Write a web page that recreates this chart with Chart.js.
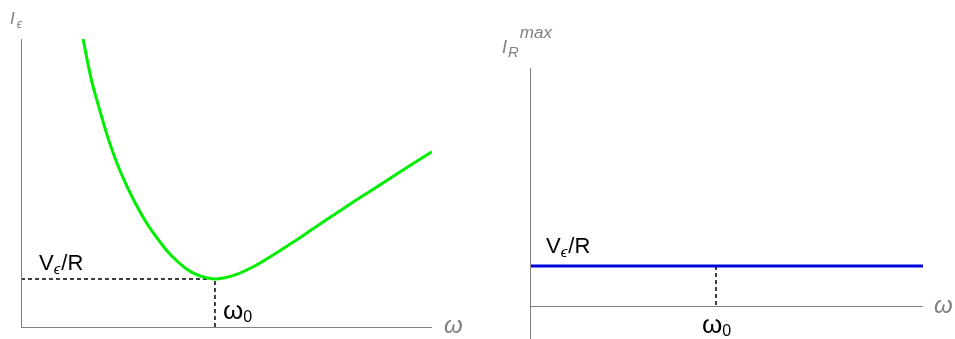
<!DOCTYPE html>
<html lang="en">
<head>
  <meta charset="UTF-8" />
  <title>Resonance current</title>
  <style>
    body {
      margin: 0;
      background: #ffffff;
      width: 955px;
      height: 339px;
      position: relative;
      overflow: hidden;
      font-family: "Liberation Sans", Arial, sans-serif;
    }
    .panel {
      position: absolute;
      top: 0;
      height: 339px;
    }
    #leftPanel { left: 0; width: 477px; }
    #rightPanel { left: 477px; width: 478px; }
  </style>
</head>
<body>
  <div class="panel" id="leftPanel"><canvas id="sourceChart"></canvas></div>
  <div class="panel" id="rightPanel"><canvas id="resistorChart"></canvas></div>

  <script src="https://cdn.jsdelivr.net/npm/chart.js"></script>
  <script>
    // frequency in units of omega0, current in units of V/R
    const omega = [0.32, 0.36, 0.40, 0.45, 0.50, 0.55, 0.60, 0.65, 0.70, 0.75, 0.80, 0.85, 0.90, 0.95, 1.0,
                   1.1, 1.2, 1.3, 1.4, 1.5, 1.6, 1.7, 1.8, 1.9, 2.0, 2.119];
    const sourceCurrent = [6.0, 5.2, 4.6, 3.92, 3.36, 2.9, 2.5, 2.15, 1.86, 1.6, 1.39, 1.22, 1.1, 1.03, 1.0,
                           1.08, 1.26, 1.5, 1.76, 2.03, 2.3, 2.57, 2.83, 3.09, 3.35, 3.65];

    const flatOmega = [0, 2.113];
    const resistorPeak = [1, 1];

    const omega0 = 1;
    const levelVR = 1;

    const axisGray = "#808080";
    const FONT = "'Liberation Sans', Arial, sans-serif";

    // draws a run of text pieces, each with its own size and vertical shift
    function drawPieces(ctx, x, y, color, pieces) {
      ctx.save();
      ctx.fillStyle = color;
      ctx.textBaseline = "alphabetic";
      let cx = x;
      pieces.forEach(p => {
        ctx.font = (p.italic ? "italic " : "") + p.size + "px " + FONT;
        cx += p.dx || 0;
        ctx.fillText(p.text, cx, y + (p.dy || 0));
        cx += ctx.measureText(p.text).width;
      });
      ctx.restore();
    }

    const vrLabel = [
      { text: "V", size: 22 },
      { text: "\u03f5", size: 15, italic: true, dy: 4, dx: 0 },
      { text: "/R", size: 22, dx: 1 }
    ];
    const w0Label = [
      { text: "\u03c9", size: 26 },
      { text: "0", size: 16, dy: 3 }
    ];
    const wAxisLabel = [{ text: "\u03c9", size: 24, italic: true }];

    function axesPlugin(labels) {
      return {
        id: "axesAndLabels",
        afterDatasetsDraw(chart) {
          const ctx = chart.ctx;
          const area = chart.chartArea;
          const xs = chart.scales.x;
          const ys = chart.scales.y;
          const x0 = Math.round(xs.getPixelForValue(0)) + 0.5;
          const y0 = Math.round(ys.getPixelForValue(0)) + 0.5;
          ctx.save();
          ctx.strokeStyle = axisGray;
          ctx.lineWidth = 1;
          ctx.beginPath();
          ctx.moveTo(x0, area.top);
          ctx.lineTo(x0, area.bottom);
          ctx.moveTo(area.left, y0);
          ctx.lineTo(area.right, y0);
          ctx.stroke();
          ctx.restore();
          labels(ctx, xs, ys);
        }
      };
    }

    const hiddenScales = (xMax, yMin, yMax) => ({
      x: { type: "linear", display: false, min: 0, max: xMax },
      y: { type: "linear", display: false, min: yMin, max: yMax }
    });

    const baseOptions = {
      responsive: true,
      maintainAspectRatio: false,
      animation: false,
      events: [],
      plugins: { legend: { display: false }, tooltip: { enabled: false } },
      elements: { point: { radius: 0 } }
    };

    const dashStyle = { borderColor: "#000000", borderWidth: 1.5, borderDash: [4, 3], tension: 0 };

    // left: source current against frequency
    new Chart(document.getElementById("sourceChart"), {
      type: "line",
      data: {
        datasets: [
          {
            data: omega.map((w, i) => ({ x: w, y: sourceCurrent[i] })),
            borderColor: "#00ee00",
            borderWidth: 3,
            cubicInterpolationMode: "monotone"
          },
          {
            data: [{ x: 0, y: levelVR }, { x: omega0, y: levelVR }, { x: omega0, y: 0 }],
            ...dashStyle
          }
        ]
      },
      options: {
        ...baseOptions,
        layout: { padding: { left: 21, right: 45, top: 39, bottom: 12 } },
        scales: hiddenScales(2.119, 0, 6)
      },
      plugins: [axesPlugin((ctx, xs, ys) => {
        const px0 = xs.getPixelForValue(omega0);
        const pyVR = ys.getPixelForValue(levelVR);
        drawPieces(ctx, 39, pyVR - 9, "#000", vrLabel);
        drawPieces(ctx, px0 + 8, 319, "#000", w0Label);
        drawPieces(ctx, 10, 24, axisGray, [
          { text: "I", size: 17, italic: true },
          { text: "\u03f5", size: 12, italic: true, dy: 4, dx: 2 }
        ]);
        drawPieces(ctx, 444, 333, axisGray, wAxisLabel);
      })]
    });

    // right: peak resistor current against frequency
    new Chart(document.getElementById("resistorChart"), {
      type: "line",
      data: {
        datasets: [
          {
            data: flatOmega.map((w, i) => ({ x: w, y: resistorPeak[i] })),
            borderColor: "#0000dd",
            borderWidth: 3
          },
          {
            data: [{ x: omega0, y: levelVR }, { x: omega0, y: 0 }],
            ...dashStyle
          }
        ]
      },
      options: {
        ...baseOptions,
        layout: { padding: { left: 53, right: 32, top: 68, bottom: 0 } },
        scales: hiddenScales(2.113, -0.825, 5.95)
      },
      plugins: [axesPlugin((ctx, xs, ys) => {
        const px0 = xs.getPixelForValue(omega0);
        const pyVR = ys.getPixelForValue(levelVR);
        const left = xs.getPixelForValue(0);
        drawPieces(ctx, left + 16, pyVR - 13, "#000", vrLabel);
        drawPieces(ctx, px0 - 14, 333, "#000", w0Label);
        drawPieces(ctx, left - 28, 53, axisGray, [
          { text: "I", size: 18, italic: true },
          { text: "R", size: 15, italic: true, dy: 4, dx: 1 },
          { text: "max", size: 17, italic: true, dy: -15, dx: 1 }
        ]);
        drawPieces(ctx, 934 - 477, 313, axisGray, wAxisLabel);
      })]
    });
  </script>
</body>
</html>
